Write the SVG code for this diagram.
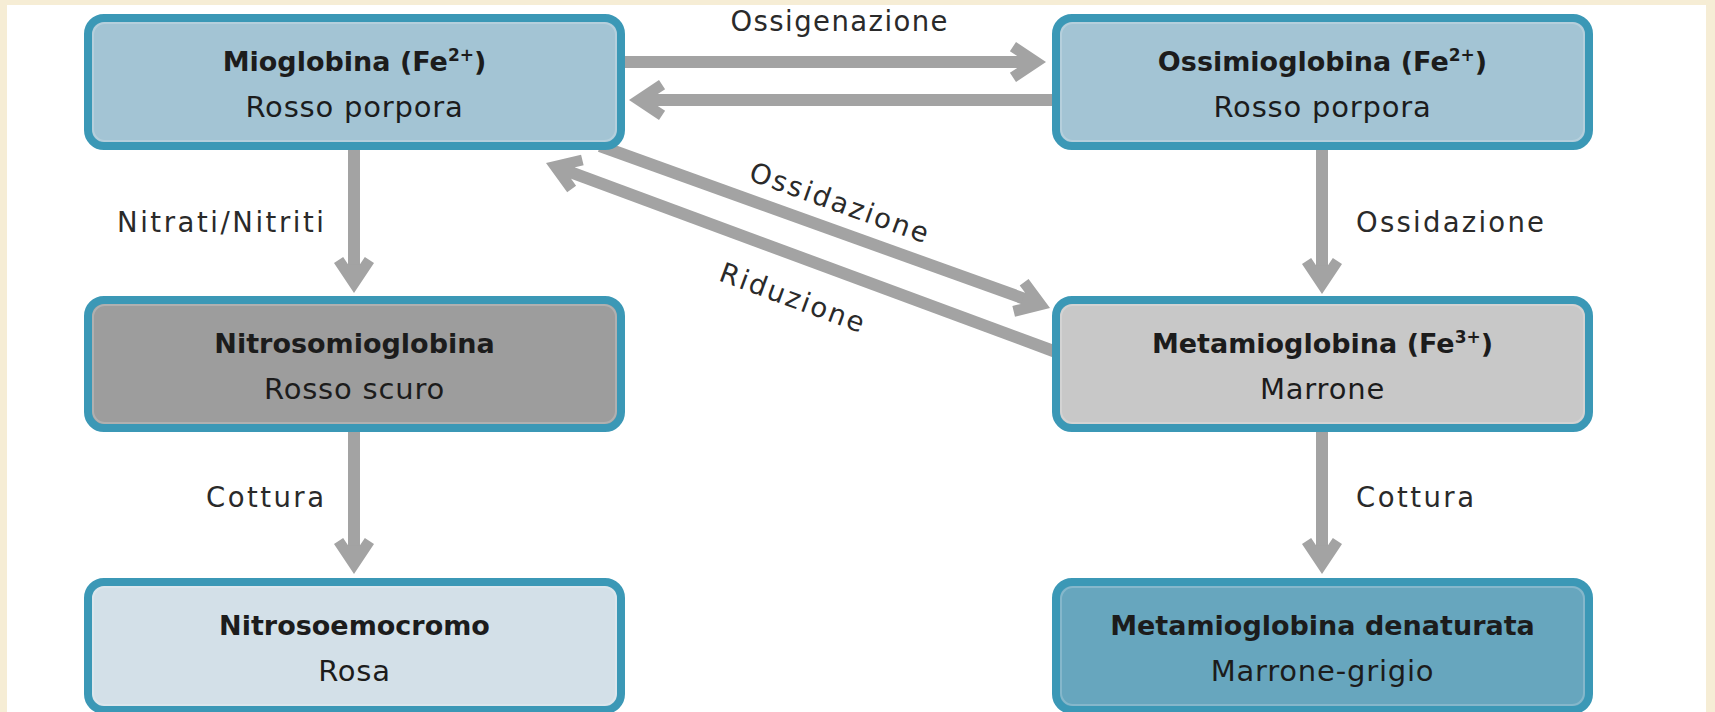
<svg xmlns="http://www.w3.org/2000/svg" xmlns:xlink="http://www.w3.org/1999/xlink" width="1715" height="712" viewBox="0 0 1715 712">
  <style>
    .box{stroke:#3b98b6;stroke-width:8}
    .ring{fill:none;stroke:#ffffff;stroke-opacity:.2;stroke-width:2}
    .t{font-family:"DejaVu Sans","Liberation Sans",sans-serif;font-size:29px;fill:#1c1c1c;text-anchor:middle;letter-spacing:0.8px}
    .b{font-weight:bold;font-size:27px;letter-spacing:0}
    .lbl{font-family:"DejaVu Sans","Liberation Sans",sans-serif;font-size:27.5px;fill:#2a2a2a}
    .shaft{stroke:#a3a3a3;stroke-width:12;fill:none}
    .head{fill:#a3a3a3}
  </style>
  <defs>
    <!-- chevron arrowhead, tip at origin, pointing +x -->
    <polygon id="hd" class="head" points="0,0 -30,-20 -36.1,-10.85 -28.8,-6 -28.8,6 -36.1,10.85 -30,20"/>
  </defs>

  <!-- page background and white panel -->
  <rect width="1715" height="712" fill="#f6edd5"/>
  <rect x="7" y="5" width="1699" height="712" fill="#ffffff"/>

  <!-- connectors -->
  <g id="connectors">
    <line class="shaft" x1="625" y1="62" x2="1030" y2="62"/>
    <use xlink:href="#hd" transform="translate(1046,62)"/>
    <line class="shaft" x1="1052" y1="100" x2="645" y2="100"/>
    <use xlink:href="#hd" transform="translate(629,100) rotate(180)"/>

    <line class="shaft" x1="354" y1="150" x2="354" y2="277"/>
    <use xlink:href="#hd" transform="translate(354,293) rotate(90)"/>
    <line class="shaft" x1="354" y1="432" x2="354" y2="558"/>
    <use xlink:href="#hd" transform="translate(354,574) rotate(90)"/>

    <line class="shaft" x1="1322" y1="150" x2="1322" y2="278"/>
    <use xlink:href="#hd" transform="translate(1322,294) rotate(90)"/>
    <line class="shaft" x1="1322" y1="432" x2="1322" y2="558"/>
    <use xlink:href="#hd" transform="translate(1322,574) rotate(90)"/>

    <line class="shaft" x1="600" y1="146" x2="1035" y2="302.6"/>
    <use xlink:href="#hd" transform="translate(1050,308) rotate(19.8)"/>
    <line class="shaft" x1="1056" y1="352" x2="561" y2="168.6"/>
    <use xlink:href="#hd" transform="translate(546,163) rotate(200.3)"/>

    <text class="lbl" x="839" y="31" text-anchor="middle" textLength="217">Ossigenazione</text>
    <text class="lbl" x="324" y="232" text-anchor="end" textLength="207">Nitrati/Nitriti</text>
    <text class="lbl" x="1356" y="232" textLength="188">Ossidazione</text>
    <text class="lbl" x="324" y="507" text-anchor="end" textLength="118">Cottura</text>
    <text class="lbl" x="1356" y="507" textLength="118">Cottura</text>
    <text class="lbl" text-anchor="middle" transform="translate(839,203) rotate(19.8)" y="9" textLength="188">Ossidazione</text>
    <text class="lbl" text-anchor="middle" transform="translate(792,298) rotate(20.3)" y="9" textLength="152">Riduzione</text>
  </g>

  <!-- nodes -->
  <g id="mioglobina">
    <rect class="box" x="88" y="18" width="533" height="128" rx="16" fill="#a3c4d4"/>
    <rect class="ring" x="93" y="23" width="523" height="118" rx="12"/>
    <text class="t b" x="354.5" y="71">Mioglobina (Fe<tspan font-size="17" dy="-10">2+</tspan><tspan dy="10">)</tspan></text>
    <text class="t" x="354.5" y="117">Rosso porpora</text>
  </g>
  <g id="ossimioglobina">
    <rect class="box" x="1056" y="18" width="533" height="128" rx="16" fill="#a3c4d4"/>
    <rect class="ring" x="1061" y="23" width="523" height="118" rx="12"/>
    <text class="t b" x="1322.5" y="71">Ossimioglobina (Fe<tspan font-size="17" dy="-10">2+</tspan><tspan dy="10">)</tspan></text>
    <text class="t" x="1322.5" y="117">Rosso porpora</text>
  </g>
  <g id="nitrosomioglobina">
    <rect class="box" x="88" y="300" width="533" height="128" rx="16" fill="#9d9d9d"/>
    <rect class="ring" x="93" y="305" width="523" height="118" rx="12"/>
    <text class="t b" x="354.5" y="353">Nitrosomioglobina</text>
    <text class="t" x="354.5" y="399">Rosso scuro</text>
  </g>
  <g id="metamioglobina">
    <rect class="box" x="1056" y="300" width="533" height="128" rx="16" fill="#c8c8c8"/>
    <rect class="ring" x="1061" y="305" width="523" height="118" rx="12"/>
    <text class="t b" x="1322.5" y="353">Metamioglobina (Fe<tspan font-size="17" dy="-10">3+</tspan><tspan dy="10">)</tspan></text>
    <text class="t" x="1322.5" y="399">Marrone</text>
  </g>
  <g id="nitrosoemocromo">
    <rect class="box" x="88" y="582" width="533" height="128" rx="16" fill="#d3e0e8"/>
    <rect class="ring" x="93" y="587" width="523" height="118" rx="12"/>
    <text class="t b" x="354.5" y="635">Nitrosoemocromo</text>
    <text class="t" x="354.5" y="681">Rosa</text>
  </g>
  <g id="metamioglobina-denaturata">
    <rect class="box" x="1056" y="582" width="533" height="128" rx="16" fill="#67a6be"/>
    <rect class="ring" x="1061" y="587" width="523" height="118" rx="12"/>
    <text class="t b" x="1322.5" y="635">Metamioglobina denaturata</text>
    <text class="t" x="1322.5" y="681">Marrone-grigio</text>
  </g>
</svg>
